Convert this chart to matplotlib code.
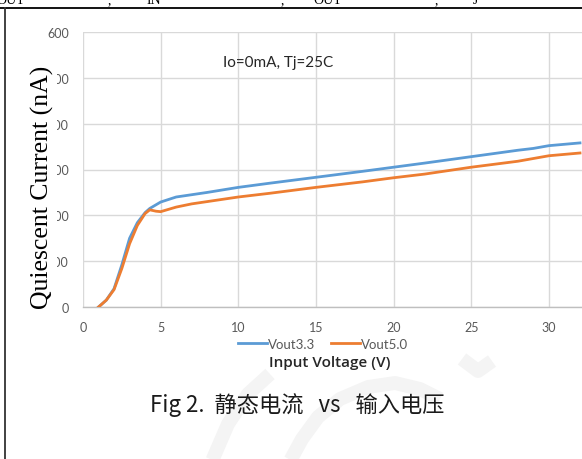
import matplotlib
matplotlib.use("Agg")
import matplotlib.pyplot as plt
from matplotlib.patches import Rectangle
from matplotlib.lines import Line2D

# ---- data ----
vin_33 = [1, 1.5, 2, 2.5, 3, 3.5, 4, 4.3, 5, 6, 7, 8, 10, 12, 15, 18, 20, 22, 25, 28, 29, 30, 32]
iq_33 = [0, 15, 40, 92, 150, 184, 206, 215, 229, 240, 245, 250, 261, 270, 283, 296, 305, 314, 328, 342, 346, 352, 358]

vin_50 = [1, 1.5, 2, 2.5, 3, 3.5, 4, 4.3, 4.7, 5, 5.5, 6, 7, 8, 10, 12, 15, 18, 20, 22, 25, 28, 29, 30, 32]
iq_50 = [0, 15, 38, 84, 138, 178, 204, 212, 209, 208, 213, 218, 225, 230, 240, 248, 261, 273, 282, 290, 305, 318, 324, 330, 336]

series_names = ["Vout3.3", "Vout5.0"]
x_ticks = [0, 5, 10, 15, 20, 25, 30]
y_ticks = [0, 100, 200, 300, 400, 500, 600]

W, H = 582, 460
fig = plt.figure(figsize=(W / 100, H / 100), dpi=100)
fig.patch.set_facecolor("white")

def fx(px):
    return px / W

def fy(py):
    return 1 - py / H

# faint watermark strokes (behind everything)
wm = "#F4F4F4"
for xs, ys in [
    ([212, 228, 248, 270], [462, 425, 395, 375]),
    ([290, 302, 318, 340, 368, 395, 420, 440], [462, 440, 418, 400, 388, 384, 390, 400]),
    ([462, 478, 492], [360, 372, 362]),
]:
    fig.add_artist(Line2D([fx(v) for v in xs], [fy(v) for v in ys], color=wm, lw=10,
                          solid_capstyle="butt", zorder=-5))

ax = fig.add_axes([fx(83), fy(308), 1 - fx(83), (308 - 33) / H])
ax.set_facecolor("none")
ax.plot(vin_33, iq_33, color="#5B9BD5", lw=2.0, label=series_names[0], zorder=3)
ax.plot(vin_50, iq_50, color="#ED7D31", lw=2.0, label=series_names[1], zorder=3)

ax.set_xlim(0, 32.13)
ax.set_ylim(0, 600)
ax.set_xticks(x_ticks)
ax.set_yticks(y_ticks)
ax.grid(True, color="#D9D9D9", lw=1.0)
ax.set_axisbelow(True)
for s in ["top", "right", "left"]:
    ax.spines[s].set_visible(False)
ax.spines["bottom"].set_color("#BFBFBF")
ax.spines["bottom"].set_linewidth(1.0)
ax.tick_params(axis="both", length=0, labelsize=9, labelcolor="#595959")
ax.tick_params(axis="y", pad=10)
ax.tick_params(axis="x", pad=10)
for lab in ax.get_xticklabels() + ax.get_yticklabels():
    lab.set_fontfamily("Lato")

ax.text(fx(278), fy(63), "Io=0mA, Tj=25C", transform=fig.transFigure, ha="center", va="center",
        fontsize=11, family="Lato", color="#262626")

leg = fig.legend(loc="center", bbox_to_anchor=(fx(323), fy(345)), ncol=2, frameon=False,
                 handlelength=2.2, handletextpad=0.1, columnspacing=1.2,
                 prop={"family": "Lato", "size": 9.5})
for t in leg.get_texts():
    t.set_color("#595959")

fig.text(fx(330), fy(363), "Input Voltage (V)", ha="center", va="center", fontsize=11,
         family="Open Sans", weight="semibold", color="#262626")

# white block over leading digits of tick labels and rotated y label
fig.add_artist(Rectangle((fx(44), fy(292)), fx(57) - fx(44), (292 - 62) / H,
                         transform=fig.transFigure, facecolor="white", edgecolor="none", zorder=2.5))
fig.text(fx(42), fy(187), "Quiescent Current (nA)", rotation=90, ha="center", va="center",
         fontsize=18.5, family="Liberation Serif", color="black", zorder=3)

fig.text(fx(297), fy(405), "Fig 2.  静态电流   vs   输入电压", ha="center", va="center", fontsize=16,
         family=["Noto Sans CJK SC", "DejaVu Sans"], color="#1A1A1A")

# page frame lines and clipped text fragments from the page above
fig.add_artist(Line2D([0, 1], [fy(9), fy(9)], color="black", lw=1.3))
fig.add_artist(Line2D([fx(4.5), fx(4.5)], [0, fy(9)], color="#333333", lw=1.3))
for px, s in [(-4, "OUT"), (108, ","), (147, "IN"), (281, ","), (313, "OUT"), (435, ","), (473, "J")]:
    fig.text(fx(px), fy(4), s, ha="left", va="baseline", fontsize=10,
             family="Liberation Serif", color="black")

fig.savefig("out.png", dpi=100, facecolor="white")
